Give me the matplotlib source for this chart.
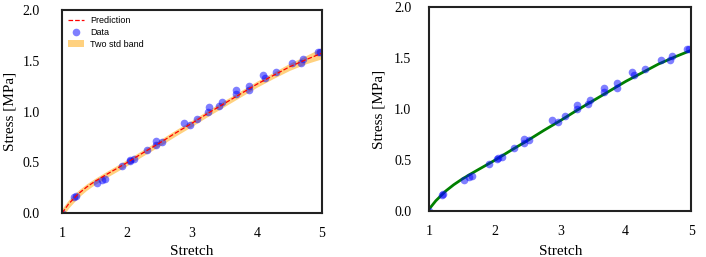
import matplotlib
matplotlib.use('Agg')
import matplotlib.pyplot as plt

# measured data
stretch = [1.0, 1.19, 1.21, 1.53, 1.61, 1.66, 1.92, 2.04, 2.05, 2.11, 2.30, 2.44, 2.45,
           2.53, 2.88, 2.97, 3.07, 3.25, 3.26, 3.42, 3.46, 3.67, 3.67, 3.87, 3.87,
           4.09, 4.12, 4.29, 4.54, 4.68, 4.71, 4.94, 4.97]
stress = [0.0, 0.16, 0.165, 0.30, 0.33, 0.34, 0.46, 0.51, 0.52, 0.53, 0.62, 0.67, 0.71,
          0.70, 0.89, 0.87, 0.93, 0.997, 1.04, 1.05, 1.09, 1.17, 1.21, 1.21, 1.25,
          1.36, 1.33, 1.39, 1.48, 1.48, 1.52, 1.585, 1.585]

# model prediction
x_pred = [1.0, 1.1, 1.25, 1.375, 1.5, 1.625, 1.75, 2.0, 2.25, 2.5, 2.75, 3.0, 3.25,
          3.5, 3.75, 4.0, 4.25, 4.5, 4.75, 5.0]
y_pred = [0.0, 0.09, 0.19, 0.255, 0.31, 0.358, 0.405, 0.497, 0.595, 0.69, 0.79, 0.885,
          0.985, 1.08, 1.175, 1.27, 1.355, 1.44, 1.51, 1.575]
y_std2 = [0.045, 0.04, 0.035, 0.032, 0.03, 0.03, 0.03, 0.03, 0.03, 0.03, 0.03, 0.03,
          0.03, 0.03, 0.03, 0.03, 0.03, 0.035, 0.04, 0.055]

# second panel fit
y_fit = [0.02, 0.10, 0.195, 0.258, 0.312, 0.36, 0.406, 0.497, 0.595, 0.69, 0.79, 0.885,
         0.985, 1.08, 1.175, 1.27, 1.355, 1.44, 1.51, 1.575]

plt.rcParams['font.family'] = 'Liberation Serif'

fig = plt.figure(figsize=(7.06, 2.57), dpi=100)
ax1 = fig.add_axes([0.088, 0.171, 0.368, 0.79])
ax2 = fig.add_axes([0.608, 0.179, 0.371, 0.794])

lo = [p - s for p, s in zip(y_pred, y_std2)]
hi = [p + s for p, s in zip(y_pred, y_std2)]
band = ax1.fill_between(x_pred, lo, hi, color='orange', alpha=0.5, lw=0)
dots, = ax1.plot(stretch, stress, 'o', color='blue', alpha=0.5, ms=5.5, mec='none')
pred, = ax1.plot(x_pred, y_pred, '--', color='red', lw=0.9)
ax1.legend([pred, dots, band], ['Prediction', 'Data', 'Two std band'], loc='upper left',
           frameon=False, prop={'family': 'Liberation Sans', 'size': 6.5},
           handlelength=1.7, handletextpad=0.7, borderaxespad=0.3, labelspacing=0.3)

ax2.plot(x_pred, y_fit, color='green', lw=2)
ax2.plot(stretch, stress, 'o', color='blue', alpha=0.5, ms=5.5, mec='none')

for ax, ypad, xlab_y, ylab_x in ((ax1, 16, -0.187, -0.2), (ax2, 13, -0.20, -0.19)):
    ax.set_xlim(1, 5)
    ax.set_ylim(0, 2)
    ax.set_xticks([1, 2, 3, 4, 5])
    ax.set_yticks([0.0, 0.5, 1.0, 1.5, 2.0])
    ax.set_yticklabels(['0.0', '0.5', '1.0', '1.5', '2.0'])
    ax.tick_params(length=0, labelsize=10)
    ax.tick_params(axis='x', pad=10)
    ax.tick_params(axis='y', pad=ypad)
    for s in ax.spines.values():
        s.set_linewidth(1.5)
        s.set_color('#222222')
    ax.set_xlabel('Stretch', fontsize=11, va='center')
    ax.set_ylabel('Stress [MPa]', fontsize=11, va='center')
    ax.xaxis.set_label_coords(0.5, xlab_y)
    ax.yaxis.set_label_coords(ylab_x, 0.5)

plt.savefig('out.png')
